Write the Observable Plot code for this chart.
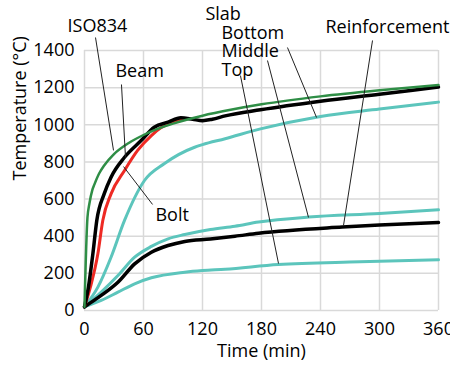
<!DOCTYPE html>
<html><head><meta charset="utf-8">
<script src="https://cdn.jsdelivr.net/npm/d3@7"></script>
<script src="https://cdn.jsdelivr.net/npm/@observablehq/plot@0.6"></script>
<style>body{margin:0;background:#fff}</style>
</head><body><div id="chart"></div>
<script>
// ---- data ----
const xTicks = [0, 60, 120, 180, 240, 300, 360];
const yTicks = [0, 200, 400, 600, 800, 1000, 1200, 1400];

const isoTime = [0, 3, 5, 8, 10, 15, 20, 30, 45, 60, 75, 90, 120, 150, 180, 240, 300, 360];
const isoTemp = [20, 500, 576, 650, 678, 739, 781, 842, 902, 945, 979, 1006, 1049, 1082, 1110, 1153, 1186, 1214];

const beamTime = [0, 6, 13.6, 18.6, 27, 40.7, 54, 68, 78, 90, 100];
const beamTemp = [20, 126, 305, 485, 628, 754, 862, 942, 985, 1015, 1030];

const boltTime = [0, 4, 8.5, 12.5, 20, 27, 40.7, 57.6, 71, 85, 98, 110, 120, 130, 143, 179, 240, 300, 360];
const boltTemp = [20, 126, 305, 485, 628, 718, 825, 915, 987, 1014, 1038, 1030, 1022, 1030, 1048, 1081, 1127, 1165, 1203];

const bottomTime = [0, 13.6, 27, 40.7, 61, 81, 112, 120, 143, 179, 240, 300, 360];
const bottomTemp = [20, 126, 287, 485, 700, 790, 879, 893, 925, 978, 1045, 1085, 1122];

const middleTime = [0, 17, 34, 51, 68, 85, 102, 128, 153, 177, 228, 300, 360];
const middleTemp = [20, 99, 188, 287, 345, 386, 409, 436, 454, 476, 503, 522, 542];

const reinfTime = [0, 17, 34, 51, 68, 85, 102, 128, 153, 177, 262, 300, 360];
const reinfTemp = [20, 81, 152, 251, 314, 350, 372, 385, 400, 416, 449, 460, 474];

const slabTopTime = [0, 17, 34, 51, 68, 102, 120, 143, 197, 280, 360];
const slabTopTemp = [20, 54, 99, 144, 176, 206, 215, 222, 248, 262, 273];

// annotation labels (data coordinates) and leader lines
const labelNames = ["ISO834", "Beam", "Bolt", "Slab", "Bottom", "Middle", "Top", "Reinforcement"];
const labelX = [-17.3, 31.5, 72.2, 123, 139.3, 139.3, 139.3, 245];
const labelY = [1529, 1287, 512, 1594, 1492, 1395, 1292, 1524];
const leaderX1 = [11.2, 37.6, 69.2, 206.4, 186.1, 158.6, 292.9];
const leaderY1 = [1470, 1217, 571, 1416, 1346, 1265, 1454];
const leaderX2 = [29.5, 41.7, 39.7, 236, 227.8, 197.3, 263.4];
const leaderY2 = [862, 824, 775, 1039, 501, 253, 458];

// ---- build tables ----
const toRows = (name, t, v) => t.map((d, i) => ({series: name, time: d, temp: v[i]}));
const isoRows = toRows("ISO834", isoTime, isoTemp);
const beamRows = toRows("Beam", beamTime, beamTemp);
const boltRows = toRows("Bolt", boltTime, boltTemp);
const bottomRows = toRows("Slab Bottom", bottomTime, bottomTemp);
const middleRows = toRows("Slab Middle", middleTime, middleTemp);
const reinfRows = toRows("Reinforcement", reinfTime, reinfTemp);
const slabTopRows = toRows("Slab Top", slabTopTime, slabTopTemp);
const labelRows = labelNames.map((n, i) => ({n, x: labelX[i], y: labelY[i]}));
const leaderRows = leaderX1.map((d, i) => ({x1: d, y1: leaderY1[i], x2: leaderX2[i], y2: leaderY2[i]}));

const TEAL = "#5cc5bc", GREEN = "#2f8e46", RED = "#ee2a24", BLACK = "#000";
const lineOpts = (color, w) => ({x: "time", y: "temp", stroke: color, strokeWidth: w, curve: "monotone-x"});

const chart = Plot.plot({
  width: 450,
  height: 367,
  marginLeft: 84,
  marginRight: 12,
  marginTop: 50,
  marginBottom: 57,
  style: {fontFamily: "'Open Sans', sans-serif", fontSize: "18px", color: "#000", background: "#fff"},
  x: {domain: [0, 360]},
  y: {domain: [0, 1400]},
  marks: [
    Plot.gridX(xTicks, {stroke: "#d9d9d9", strokeOpacity: 1, strokeWidth: 1.5}),
    Plot.gridY(yTicks, {stroke: "#d9d9d9", strokeOpacity: 1, strokeWidth: 1.5}),
    Plot.axisX({ticks: xTicks, tickSize: 0, tickPadding: 12, tickFormat: d => String(d), label: null}),
    Plot.axisY({ticks: yTicks, tickSize: 0, tickPadding: 10, tickFormat: d => String(d), label: null}),
    Plot.line(slabTopRows, lineOpts(TEAL, 3)),
    Plot.line(middleRows, lineOpts(TEAL, 3)),
    Plot.line(bottomRows, lineOpts(TEAL, 3)),
    Plot.line(reinfRows, lineOpts(BLACK, 3.5)),
    Plot.line(beamRows, lineOpts(RED, 3)),
    Plot.line(boltRows, lineOpts(BLACK, 3.5)),
    Plot.line(isoRows, lineOpts(GREEN, 2.5)),
    Plot.link(leaderRows, {x1: "x1", y1: "y1", x2: "x2", y2: "y2", stroke: "#222", strokeWidth: 1}),
    Plot.text(labelRows, {x: "x", y: "y", text: "n", textAnchor: "start", fill: "#000"}),
    Plot.text(["Time (min)"], {frameAnchor: "bottom", dy: 46, fill: "#000"}),
    Plot.text(["Temperature (°C)"], {frameAnchor: "left", rotate: -90, dx: -64, fill: "#000"})
  ]
});
document.getElementById("chart").appendChild(chart);
</script>
</body></html>
